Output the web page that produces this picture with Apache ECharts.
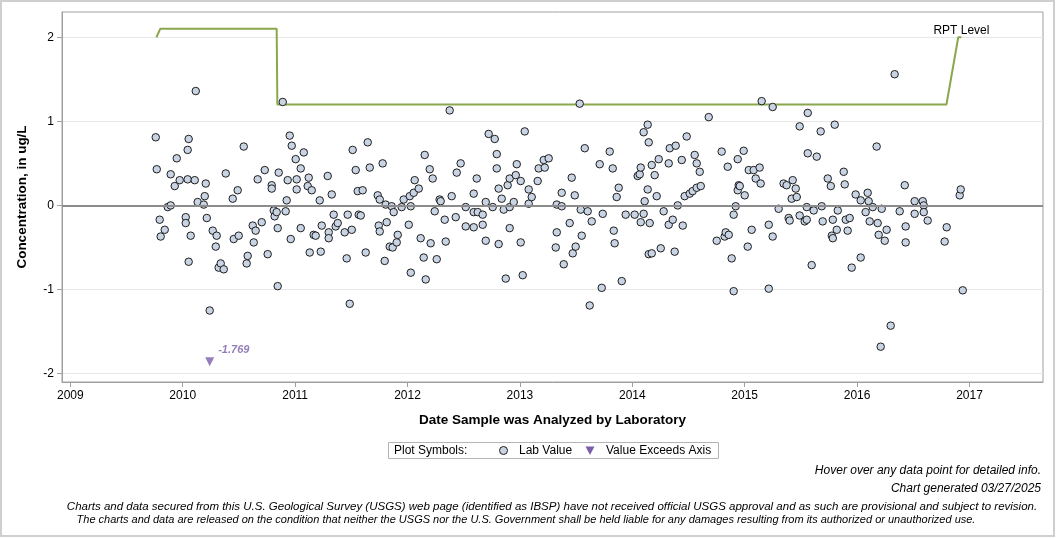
<!DOCTYPE html>
<html>
<head>
<meta charset="utf-8">
<script src="https://cdn.jsdelivr.net/npm/echarts@6.0.0/dist/echarts.min.js"></script>
<style>
  html, body { margin: 0; padding: 0; background: #fff; }
  #chart { width: 1056px; height: 538px; }
</style>
</head>
<body>
<div id="chart"></div>
<script>
// lab values per year: [fraction of year, concentration ug/L]
const labYears = [2009, 2010, 2011, 2012, 2013, 2014, 2015, 2016];
const lab2009 = [[.760,.81],[.769,.43],[.795,-.17],[.804,-.37],[.840,-.29],[.867,-.02],[.893,0],[.893,.37],[.929,.23],[.947,.56],[.973,.30]];
const lab2010 = [[.027,-.14],[.027,-.21],[.044,.66],[.044,.31],[.053,.79],[.053,-.67],[.071,-.36],[.107,.30],[.116,1.36],[.133,.04],[.187,.01],[.196,.11],[.205,.26],[.214,-.15],[.240,-1.25],[.267,-.30],[.294,-.49],[.302,-.36],[.320,-.74],[.338,-.69],[.365,-.76],[.383,.38],[.445,.08],[.454,-.40],[.489,.18],[.498,-.36],[.543,.70],[.569,-.69],[.578,-.60],[.623,-.24],[.632,-.44],[.649,-.30],[.667,.31],[.703,-.20],[.730,.42],[.756,-.58],[.792,.24],[.792,.20],[.810,-.06],[.818,-.13],[.836,-.08],[.845,-.27],[.845,-.96],[.854,.39],[.890,1.23],[.916,-.07],[.925,.06],[.934,.30],[.952,.83],[.961,-.40],[.970,.71]];
const lab2011 = [[.005,.55],[.014,.31],[.014,.19],[.050,.44],[.050,-.27],[.077,.63],[.112,.23],[.121,.33],[.130,-.56],[.148,.18],[.165,-.35],[.183,-.36],[.219,.06],[.228,-.55],[.237,-.24],[.290,.35],[.299,-.32],[.299,-.39],[.326,.13],[.343,-.11],[.361,-.25],[.379,-.21],[.441,-.32],[.459,-.63],[.468,-.11],[.486,-1.17],[.504,-.29],[.512,.66],[.539,.42],[.557,.17],[.566,-.11],[.584,-.12],[.601,.18],[.628,-.56],[.646,.75],[.664,.45],[.735,.12],[.744,-.24],[.753,.07],[.753,-.31],[.779,.50],[.797,-.66],[.806,.01],[.815,-.20],[.842,-.49],[.859,-.01],[.868,-.50],[.877,-.08],[.904,-.44],[.913,-.35],[.948,-.02],[.966,.07]];
const lab2012 = [[.011,-.23],[.020,.11],[.029,-.01],[.029,-.80],[.055,.15],[.064,.30],[.100,.20],[.117,-.39],[.144,-.62],[.153,.60],[.162,-.88],[.198,.43],[.206,-.45],[.224,.32],[.242,-.07],[.260,-.64],[.286,.07],[.295,.05],[.331,-.17],[.340,-.43],[.375,1.13],[.393,.11],[.429,-.14],[.438,.39],[.473,.50],[.518,-.02],[.518,-.25],[.589,.14],[.589,-.08],[.589,-.26],[.616,.32],[.625,-.08],[.669,-.11],[.669,-.23],[.696,.04],[.696,-.42],[.722,.85],[.758,-.02],[.776,.79],[.794,.61],[.794,.44],[.811,.20],[.811,-.46],[.838,.08],[.856,-.05],[.874,-.87],[.891,.24],[.909,.32],[.909,-.02],[.909,-.27],[.945,.04],[.963,.36],[.972,.49]];
const lab2013 = [[.007,.29],[.007,-.44],[.025,-.83],[.043,.88],[.078,.19],[.078,.02],[.105,.10],[.158,.29],[.167,.44],[.212,.54],[.221,.45],[.256,.56],[.319,-.50],[.328,.01],[.328,-.32],[.372,.15],[.372,-.01],[.390,-.70],[.443,-.21],[.461,.33],[.470,-.57],[.488,.12],[.496,-.49],[.532,1.21],[.541,-.05],[.550,-.36],[.577,.68],[.603,-.07],[.621,-1.19],[.639,-.19],[.710,.49],[.728,-.98],[.737,-.10],[.799,.64],[.826,.44],[.835,-.30],[.843,-.45],[.861,.10],[.879,.21],[.906,-.90],[.941,-.11]];
const lab2014 = [[.021,-.11],[.048,.35],[.066,.37],[.075,.45],[.075,-.20],[.101,.87],[.101,-.10],[.110,.05],[.137,.96],[.137,.19],[.146,.75],[.155,-.21],[.146,-.58],[.173,-.57],[.173,.48],[.199,.36],[.217,.11],[.235,.55],[.253,-.51],[.279,-.07],[.324,.50],[.324,-.23],[.333,.68],[.360,-.17],[.377,-.55],[.386,.71],[.404,0],[.440,.54],[.449,-.24],[.466,.11],[.484,.82],[.511,.14],[.537,.17],[.555,.60],[.573,.50],[.573,.21],[.600,.40],[.609,.23],[.680,1.05],[.751,-.42],[.795,.64],[.822,-.37],[.831,-.32],[.849,.46],[.858,-.35],[.884,-.63],[.902,-.11],[.902,-1.02],[.920,-.01],[.938,.55],[.938,.18],[.947,.24],[.956,.23],[.991,.65]];
const lab2015 = [[.000,.12],[.027,-.49],[.036,.42],[.062,-.29],[.080,.42],[.098,.32],[.133,.45],[.142,.26],[.151,1.24],[.214,-.23],[.214,-.99],[.249,1.17],[.249,-.37],[.302,-.04],[.346,.26],[.373,.24],[.391,-.15],[.400,-.18],[.418,.08],[.427,.30],[.454,.20],[.463,.10],[.489,.94],[.489,-.12],[.534,-.19],[.552,-.02],[.552,-.17],[.561,1.10],[.561,.62],[.596,-.71],[.614,-.06],[.641,.58],[.676,.88],[.685,-.01],[.694,-.19],[.739,.32],[.766,.23],[.775,-.36],[.784,-.17],[.784,-.39],[.801,.96],[.819,-.29],[.828,-.06],[.881,.40],[.890,.25],[.899,-.17],[.916,-.30],[.934,-.15],[.952,-.74],[.987,.13]];
const lab2016 = [[.032,.06],[.032,-.62],[.076,-.08],[.094,.15],[.103,.05],[.112,-.19],[.139,-.02],[.174,.70],[.183,-.21],[.192,-.35],[.210,-1.68],[.219,-.04],[.246,-.42],[.263,-.29],[.299,-1.43],[.334,1.56],[.379,-.07],[.424,.24],[.432,-.25],[.432,-.44],[.512,.05],[.512,-.10],[.584,.05],[.593,0],[.593,-.08],[.628,-.18],[.779,-.43],[.797,-.26],[.913,.12],[.922,.19],[.940,-1.01]];

// value beyond axis, drawn at the axis floor marker position
const exceedDates = [2010.24];
const exceedMarks = [-1.86];
const exceedLabels = ['-1.769'];

// reporting level step line
const rptDates = [2009.766, 2009.80, 2010.836, 2010.842, 2016.795, 2016.90, 2016.928];
const rptLevels = [2.0, 2.1, 2.1, 1.2, 1.2, 2.0, 2.0];

const yearTicks = [2009, 2010, 2011, 2012, 2013, 2014, 2015, 2016, 2017];
const concTicks = [-2, -1, 0, 1, 2];

const FONT = '"Liberation Sans", Arial, sans-serif';
const PURPLE = '#7b5ea7';

let labByYear = [lab2009, lab2010, lab2011, lab2012, lab2013, lab2014, lab2015, lab2016];
let labData = [];
labByYear.forEach((rows, i) => {
  rows.forEach(r => labData.push([labYears[i] + r[0], r[1]]));
});
let rptData = rptDates.map((d, i) => [d, rptLevels[i]]);
let exceedData = exceedDates.map((d, i) => [d, exceedMarks[i]]);

let chart = echarts.init(document.getElementById('chart'), null, { renderer: 'canvas' });

let option = {
  animation: false,
  backgroundColor: '#fff',
  textStyle: { fontFamily: FONT },
  grid: {
    left: 62, top: 12, width: 981, height: 370,
    show: true, borderColor: '#a0a0a0', borderWidth: 1, backgroundColor: 'transparent'
  },
  xAxis: {
    type: 'value',
    min: 2008.926,
    max: 2017.654,
    name: 'Date Sample was Analyzed by Laboratory',
    nameLocation: 'middle',
    nameGap: 31,
    nameTextStyle: { fontWeight: 'bold', fontSize: 13.5, color: '#000', fontFamily: FONT },
    axisLine: { show: true, onZero: false, lineStyle: { color: '#a0a0a0' } },
    axisTick: { show: true, length: 5, customValues: yearTicks, lineStyle: { color: '#a0a0a0' } },
    axisLabel: {
      customValues: yearTicks, color: '#000', fontSize: 12, margin: 8, fontFamily: FONT,
      formatter: v => String(Math.round(v))
    },
    splitLine: { show: false }
  },
  yAxis: {
    type: 'value',
    min: -2.1,
    max: 2.3,
    name: 'Concentration, in ug/L',
    nameLocation: 'middle',
    nameGap: 33,
    nameTextStyle: { fontWeight: 'bold', fontSize: 13.5, color: '#000', fontFamily: FONT },
    axisLine: { show: true, onZero: false, lineStyle: { color: '#a0a0a0' } },
    axisTick: { show: true, length: 5, customValues: concTicks, lineStyle: { color: '#a0a0a0' } },
    axisLabel: {
      customValues: concTicks, color: '#000', fontSize: 12, margin: 8, fontFamily: FONT,
      formatter: v => String(Math.round(v))
    },
    splitLine: { show: true, lineStyle: { color: '#e6e6e6', width: 1 } }
  },
  series: [
    {
      name: 'RPT Level',
      type: 'line',
      z: 2,
      data: rptData,
      symbol: 'none',
      lineStyle: { color: '#89a84c', width: 2 },
      silent: true,
      markLine: {
        silent: true,
        symbol: ['none', 'none'],
        label: { show: false },
        lineStyle: { color: '#8c8c8c', width: 2, type: 'solid' },
        data: [{ yAxis: 0 }]
      },
      markPoint: {
        symbol: 'circle',
        symbolSize: 0,
        label: {
          show: true, position: 'top', distance: 1, formatter: 'RPT Level',
          color: '#000', fontSize: 12, fontFamily: FONT
        },
        data: [{ coord: rptData[rptData.length - 1] }]
      }
    },
    {
      name: 'Lab Value',
      type: 'scatter',
      z: 3,
      data: labData,
      symbol: 'circle',
      symbolSize: 7.5,
      itemStyle: { color: '#c8d4e4', borderColor: '#1e1e1e', borderWidth: 1, opacity: 1 }
    },
    {
      name: 'Value Exceeds Axis',
      type: 'scatter',
      z: 4,
      data: exceedData,
      symbol: 'triangle',
      symbolRotate: 180,
      symbolSize: 9,
      itemStyle: { color: PURPLE },
      label: {
        show: true,
        position: 'right',
        offset: [-1, -12],
        formatter: p => exceedLabels[p.dataIndex],
        color: PURPLE, fontSize: 11, fontWeight: 'bold', fontStyle: 'italic', fontFamily: FONT
      }
    }
  ],
  graphic: [
    // outer frame
    { type: 'rect', shape: { x: 1, y: 1, width: 1053, height: 535 }, style: { fill: 'none', stroke: '#cfcfcf', lineWidth: 2 }, silent: true },
    // legend box
    { type: 'rect', shape: { x: 388.5, y: 442.5, width: 330, height: 16 }, style: { fill: '#fff', stroke: '#b4b4b4', lineWidth: 1 } },
    { type: 'text', x: 394, y: 451, style: { text: 'Plot Symbols:', font: '12px ' + FONT, fill: '#000', textVerticalAlign: 'middle' } },
    { type: 'circle', shape: { cx: 503.5, cy: 450.5, r: 4 }, style: { fill: '#c8d4e4', stroke: '#1e1e1e', lineWidth: 1 } },
    { type: 'text', x: 519, y: 451, style: { text: 'Lab Value', font: '12px ' + FONT, fill: '#000', textVerticalAlign: 'middle' } },
    { type: 'polygon', shape: { points: [[585.5, 446.5], [594.5, 446.5], [590, 455]] }, style: { fill: PURPLE } },
    { type: 'text', x: 606, y: 451, style: { text: 'Value Exceeds Axis', font: '12px ' + FONT, fill: '#000', textVerticalAlign: 'middle' } },
    // notes
    { type: 'text', x: 1041, y: 471, style: { text: 'Hover over any data point for detailed info.', font: 'italic 12px ' + FONT, fill: '#000', textAlign: 'right', textVerticalAlign: 'middle' } },
    { type: 'text', x: 1041, y: 489, style: { text: 'Chart generated 03/27/2025', font: 'italic 12px ' + FONT, fill: '#000', textAlign: 'right', textVerticalAlign: 'middle' } },
    { type: 'text', x: 552, y: 507, style: { text: 'Charts and data secured from this U.S. Geological Survey (USGS) web page (identified as IBSP) have not received official USGS approval and as such are provisional and subject to revision.', font: 'italic 11.5px ' + FONT, fill: '#000', textAlign: 'center', textVerticalAlign: 'middle' } },
    { type: 'text', x: 526, y: 520, style: { text: 'The charts and data are released on the condition that neither the USGS nor the U.S. Government shall be held liable for any damages resulting from its authorized or unauthorized use.', font: 'italic 11px ' + FONT, fill: '#000', textAlign: 'center', textVerticalAlign: 'middle' } }
  ]
};

chart.setOption(option);
</script>
</body>
</html>
